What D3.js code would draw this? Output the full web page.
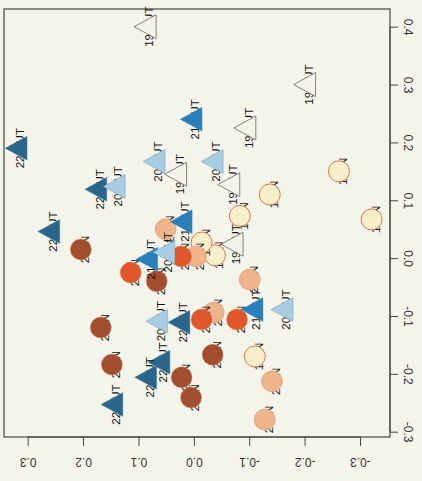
<!DOCTYPE html>
<html>
<head>
<meta charset="utf-8">
<script src="https://cdn.jsdelivr.net/npm/d3@7"></script>
<style>
  html, body { margin: 0; padding: 0; background: #f5f4eb; }
  svg { display: block; }
</style>
</head>
<body>
<svg id="chart" width="422" height="481"></svg>
<script>
// ordination scores, read off the (rotated) scan
// dim1 = right axis (up), dim2 = bottom axis (leftwards positive)
const outYear = ['19','19','19','21','22','20','20','19','19','22','20','21','22','19','21','20','20','22','21','20','22','22','22'];
const outDim1 = [0.40, 0.30, 0.225, 0.24, 0.19, 0.167, 0.167, 0.145, 0.127, 0.119, 0.124, 0.063, 0.046, 0.024, -0.002, 0.010, -0.109, -0.111, -0.089, -0.089, -0.180, -0.206, -0.253];
const outDim2 = [0.088, -0.20, -0.092, 0.005, 0.321, 0.072, -0.033, 0.033, -0.063, 0.177, 0.144, 0.023, 0.262, -0.069, 0.085, 0.054, 0.067, 0.027, -0.105, -0.159, 0.063, 0.087, 0.148];

const inYear = ['19','19','19','19','19','19','20','20','20','20','20','20','19','21','21','21','21','22','22','22','22','22','22','22'];
const inDim1 = [0.150, 0.067, 0.110, 0.073, 0.005, 0.027, -0.037, 0.003, 0.050, -0.094, -0.213, -0.279, -0.170, 0.003, -0.025, -0.106, -0.106, 0.015, -0.040, -0.120, -0.184, -0.206, -0.241, -0.167];
const inDim2 = [-0.262, -0.321, -0.137, -0.083, -0.038, -0.014, -0.101, -0.004, 0.051, -0.036, -0.141, -0.128, -0.110, 0.023, 0.114, -0.014, -0.078, 0.204, 0.067, 0.168, 0.148, 0.022, 0.005, -0.034];

const dim1Ticks = [0.4, 0.3, 0.2, 0.1, 0.0, -0.1, -0.2, -0.3];
const dim2Ticks = [0.3, 0.2, 0.1, 0.0, -0.1, -0.2, -0.3];
const years = ['19', '20', '21', '22'];

const outFill = d3.scaleOrdinal().domain(years).range(['#f4f3ea', '#a6cde2', '#2a7fbb', '#2a6689']);
const inFill = d3.scaleOrdinal().domain(years).range(['#f7efc9', '#f0b48b', '#e0572a', '#a34f2f']);

const svg = d3.select('#chart');

// plot box
const box = { left: 4, right: 390, top: 9, bottom: 437 };

const x = d3.scaleLinear().domain([0.3, -0.3]).range([27.7, 360]);
const y = d3.scaleLinear().domain([0.4, -0.3]).range([26.7, 431.7]);

const fmt = d => (d < 0 ? '-' : '') + d3.format('.1f')(Math.abs(d));

svg.append('rect')
    .attr('x', box.left).attr('y', box.top)
    .attr('width', box.right - box.left).attr('height', box.bottom - box.top)
    .attr('fill', 'none').attr('stroke', '#454545').attr('stroke-width', 1.2);

// bottom axis (labels upside down like the scan)
const xAxis = svg.append('g').attr('transform', `translate(0,${box.bottom})`)
    .call(d3.axisBottom(x).tickValues(dim2Ticks).tickSize(9).tickFormat(fmt).tickSizeOuter(0));
xAxis.select('.domain').attr('d', `M${x(0.3)},0H${x(-0.3)}`).attr('stroke', '#454545');
xAxis.selectAll('.tick line').attr('stroke', '#454545');
xAxis.selectAll('.tick text')
    .attr('y', 0).attr('dy', null)
    .attr('transform', 'translate(0,25) rotate(180)')
    .attr('dominant-baseline', 'central')
    .style('font-family', 'Liberation Sans, Arial, sans-serif')
    .style('font-size', '12px').attr('fill', '#333');

// right axis (labels reading top-to-bottom)
const yAxis = svg.append('g').attr('transform', `translate(${box.right},0)`)
    .call(d3.axisRight(y).tickValues(dim1Ticks).tickSize(8).tickFormat(fmt).tickSizeOuter(0));
yAxis.select('.domain').attr('d', `M0,${y(0.4)}V${y(-0.3)}`).attr('stroke', '#454545');
yAxis.selectAll('.tick line').attr('stroke', '#454545');
yAxis.selectAll('.tick text')
    .attr('x', 0).attr('dy', null)
    .attr('transform', 'translate(18,0) rotate(90)')
    .attr('text-anchor', 'middle')
    .attr('dominant-baseline', 'central')
    .style('font-family', 'Liberation Sans, Arial, sans-serif')
    .style('font-size', '12px').attr('fill', '#333');

const points = [];
inYear.forEach((yr, i) => points.push({ shape: 'circle', year: yr, d1: inDim1[i], d2: inDim2[i], label: yr + ' IN' }));
outYear.forEach((yr, i) => points.push({ shape: 'tri', year: yr, d1: outDim1[i], d2: outDim2[i], label: yr + ' OUT' }));

const tri = 'M-11,0L11,-12L11,12Z'; // pointing left

const g = svg.append('g');
points.forEach(p => {
    const px = x(p.d2), py = y(p.d1);
    g.append('text')
        .attr('transform', `translate(${px + 4},${py}) rotate(-90)`)
        .attr('text-anchor', 'middle')
        .attr('dominant-baseline', 'central')
        .style('font-family', 'Liberation Sans, Arial, sans-serif')
        .style('font-size', '11.5px')
        .attr('fill', '#151515')
        .text(p.label);
    if (p.shape === 'circle') {
        g.append('circle')
            .attr('cx', px).attr('cy', py).attr('r', 10.5)
            .attr('fill', inFill(p.year))
            .attr('stroke', p.year === '19' ? '#d9774a' : '#c98a66')
            .attr('stroke-width', p.year === '19' ? 1 : 0.5);
    } else {
        g.append('path')
            .attr('d', tri)
            .attr('transform', `translate(${px},${py})`)
            .attr('fill', outFill(p.year))
            .attr('stroke', p.year === '19' ? '#666' : '#5a8aa8')
            .attr('stroke-width', p.year === '19' ? 0.8 : 0.4);
    }
});
</script>
</body>
</html>
